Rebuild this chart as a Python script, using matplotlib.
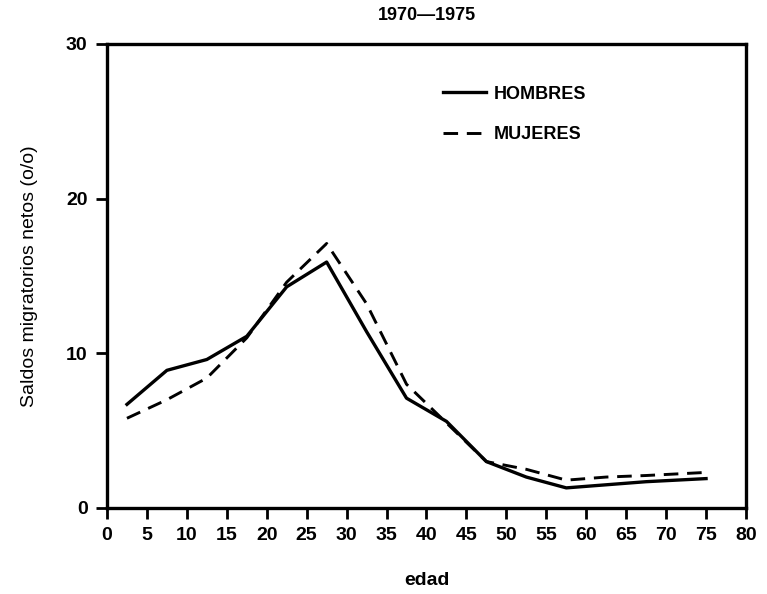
import matplotlib
matplotlib.use("Agg")
import matplotlib.pyplot as plt

plt.rcParams['font.family'] = ['Liberation Sans', 'DejaVu Sans']

# edades (centro de grupo quinquenal) y saldos migratorios netos (%)
edades = [2.5, 7.5, 12.5, 17.5, 22.5, 27.5, 32.5, 37.5, 42.5, 47.5, 52.5, 57.5, 62.5, 67.5, 75]
hombres = [6.7, 8.9, 9.6, 11.1, 14.3, 15.9, 11.4, 7.1, 5.6, 3.0, 2.0, 1.3, 1.5, 1.7, 1.9]
mujeres = [5.8, 7.0, 8.4, 11.0, 14.6, 17.1, 13.2, 8.0, 5.5, 3.0, 2.5, 1.8, 2.0, 2.1, 2.3]

xticks = list(range(0, 81, 5))
yticks = [0, 10, 20, 30]

fig = plt.figure(figsize=(7.67, 5.94), dpi=100)
ax = fig.add_axes([0.1395, 0.1448, 0.8331, 0.7812])

ax.plot(edades, hombres, color='black', lw=2.4, label='HOMBRES')
ax.plot(edades, mujeres, color='black', lw=2.1, ls=(0, (5, 3)), label='MUJERES')

ax.set_xlim(0, 80)
ax.set_ylim(0, 30)
ax.set_xticks(xticks)
ax.set_yticks(yticks)
ax.tick_params(axis='both', direction='out', length=8, width=2, labelsize=14, pad=6)
for lbl in ax.get_xticklabels() + ax.get_yticklabels():
    lbl.set_fontweight('semibold')
for s in ax.spines.values():
    s.set_linewidth(2.4)

ax.set_xlabel('edad', fontsize=14, fontweight='semibold', labelpad=20)
ax.set_ylabel('Saldos migratorios netos (o/o)', fontsize=14, labelpad=20)
ax.set_title('1970\u20141975', fontsize=13, fontweight='bold', pad=17)

leg = ax.legend(loc='upper left', bbox_to_anchor=(0.5, 0.945), frameon=False,
                prop={'size': 13, 'weight': 'semibold'},
                handlelength=2.4, handletextpad=0.4, labelspacing=1.3)

fig.savefig('out.png', dpi=100)
